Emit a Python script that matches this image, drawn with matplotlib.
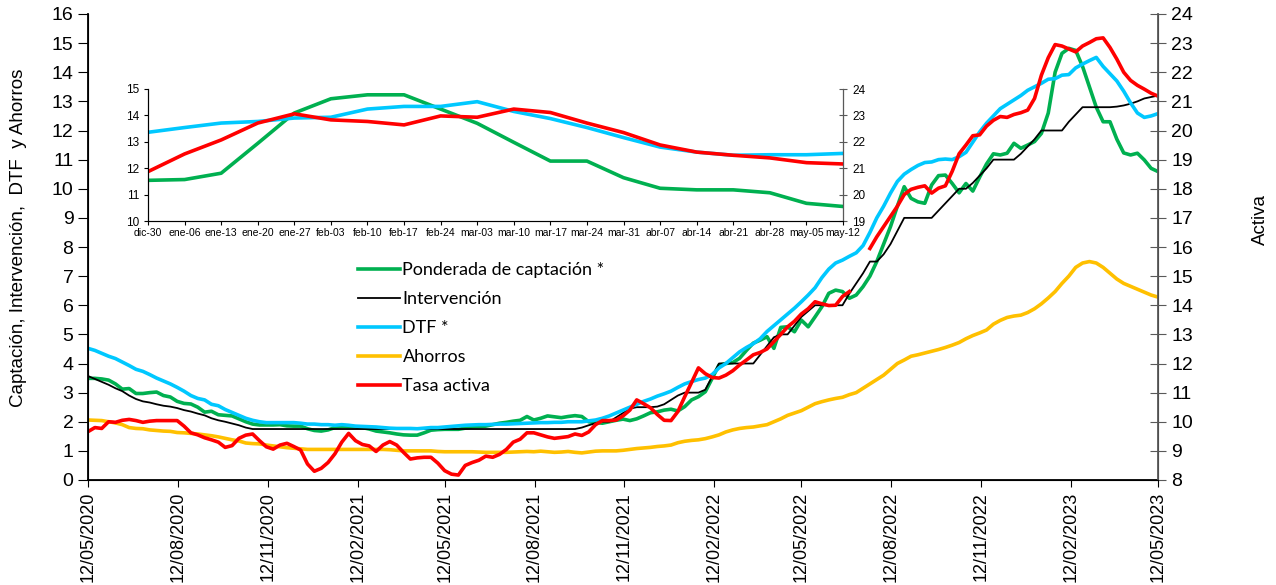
## Tasas de interes semanales - captacion, intervencion, DTF, ahorros y activa
import numpy as np
import pandas as pd
import matplotlib
matplotlib.use('Agg')
import matplotlib.pyplot as plt
import matplotlib.dates as mdates

plt.rcParams['font.family'] = ['Liberation Sans', 'DejaVu Sans']

## Datos del grafico principal (semanal, 12/05/2020 - 12/05/2023)
fechas = pd.date_range('2020-05-12', '2023-05-12', periods=157)
fechas_eje = ['2020-05-12', '2020-08-12', '2020-11-12', '2021-02-12', '2021-05-12', '2021-08-12', '2021-11-12',
              '2022-02-12', '2022-05-12', '2022-08-12', '2022-11-12', '2023-02-12', '2023-05-12']

captacion = [3.49, 3.49, 3.47, 3.43, 3.3, 3.12, 3.14, 2.97, 2.97, 3.0, 3.02, 2.9, 2.85, 2.7, 2.63, 2.61,
             2.5, 2.33, 2.36, 2.24, 2.22, 2.2, 2.1, 2.0, 1.92, 1.89, 1.89, 1.89, 1.9, 1.86, 1.85, 1.85,
             1.76, 1.7, 1.68, 1.72, 1.8, 1.83, 1.83, 1.82, 1.8, 1.75, 1.68, 1.65, 1.62, 1.58, 1.55, 1.54,
             1.54, 1.62, 1.71, 1.73, 1.74, 1.74, 1.74, 1.78, 1.82, 1.83, 1.85, 1.9, 1.95, 1.98,
             2.02, 2.05, 2.18, 2.06, 2.12, 2.2, 2.17, 2.14, 2.18, 2.21, 2.18, 2.0, 1.97, 1.95, 2.0, 2.05,
             2.09, 2.04, 2.1, 2.2, 2.31, 2.34, 2.4, 2.43, 2.37, 2.52, 2.75, 2.86, 3.03, 3.49, 3.95,
             4.0, 4.03, 4.18, 4.45, 4.7, 4.8, 4.92, 4.52, 5.24, 5.26, 5.09, 5.49, 5.26, 5.6, 5.95, 6.41,
             6.52, 6.47, 6.24, 6.35, 6.64, 7.0, 7.5, 8.1, 8.7, 9.4,
             10.07, 9.67, 9.55, 9.5, 10.13, 10.45, 10.47, 10.18, 9.86, 10.18, 9.92, 10.4, 10.85, 11.2,
             11.16, 11.22, 11.56, 11.39, 11.5, 11.62, 11.9, 12.6, 14.0, 14.65, 14.82, 14.75, 14.2, 13.5,
             12.8, 12.3, 12.3, 11.7, 11.23, 11.16, 11.22, 10.99, 10.7, 10.59]

intervencion = [3.57, 3.47, 3.37, 3.27, 3.15, 3.05, 2.9, 2.78, 2.7, 2.66, 2.6, 2.55, 2.52, 2.47, 2.4, 2.35,
                2.28, 2.22, 2.12, 2.05, 2.0, 1.94, 1.88, 1.8] + [1.75] * 48 + \
               [1.8, 1.88, 1.95, 2.0, 2.0, 2.15, 2.3, 2.45, 2.5, 2.5, 2.5, 2.52, 2.6, 2.75, 2.9, 3.0, 3.0,
                3.0, 3.1, 3.55, 4.0] + [4.0] * 5 + \
               [4.3, 4.6, 4.9, 5.0, 5.0, 5.3, 5.6, 5.8, 6.0] + [6.0] * 4 + \
               [6.4, 6.75, 7.1, 7.5, 7.5, 7.75, 8.1, 8.55] + [9.0] * 5 + \
               [9.25, 9.5, 9.75, 10.0, 10.0, 10.2, 10.45, 10.7, 11.0, 11.0, 11.0, 11.0,
                11.2, 11.45, 11.7, 12.0, 12.0, 12.0, 12.0, 12.3, 12.55, 12.8,
                12.8, 12.8, 12.8, 12.8, 12.82, 12.86, 12.92, 13.0, 13.1, 13.15, 13.2]

dtf = [4.52, 4.45, 4.35, 4.25, 4.17, 4.05, 3.93, 3.8, 3.73, 3.62, 3.5, 3.4, 3.3, 3.18, 3.05, 2.9,
       2.8, 2.75, 2.6, 2.55, 2.42, 2.32, 2.22, 2.12, 2.05, 2.0, 1.97, 1.97, 1.97, 1.97, 1.97, 1.95,
       1.92, 1.92, 1.9, 1.9, 1.88, 1.9, 1.88, 1.85, 1.84, 1.83, 1.82, 1.8, 1.78, 1.77,
       1.77, 1.77, 1.76, 1.78, 1.8, 1.8, 1.82, 1.84, 1.86, 1.88, 1.89, 1.9, 1.9, 1.91, 1.92, 1.92,
       1.93, 1.94, 1.95, 1.96, 1.97, 1.97, 1.98, 1.98, 2.0, 2.0, 2.0, 2.03, 2.06, 2.12,
       2.2, 2.3, 2.4, 2.5, 2.6, 2.7, 2.78, 2.88, 2.96, 3.05, 3.18, 3.3, 3.38, 3.45, 3.5, 3.62,
       3.85, 4.0, 4.2, 4.4, 4.55, 4.68, 4.85, 5.1, 5.3, 5.5, 5.7, 5.9, 6.12,
       6.35, 6.6, 6.95, 7.24, 7.45, 7.55, 7.68, 7.8, 8.05, 8.5, 9.0, 9.4, 9.85,
       10.25, 10.5, 10.66, 10.8, 10.9, 10.92, 11.0, 11.02, 11.0, 11.1, 11.25, 11.6, 11.95,
       12.25, 12.5, 12.75, 12.9, 13.05, 13.2, 13.38, 13.5, 13.62, 13.76, 13.78, 13.9, 13.92,
       14.15, 14.28, 14.4, 14.51, 14.2, 13.95, 13.7, 13.35, 12.95, 12.6, 12.45, 12.5, 12.58]

ahorros = [2.06, 2.05, 2.04, 2.0, 1.96, 1.9, 1.8, 1.77, 1.76, 1.72, 1.7, 1.68, 1.67, 1.63, 1.62, 1.6,
           1.58, 1.55, 1.52, 1.48, 1.43, 1.38, 1.34, 1.27, 1.25, 1.24, 1.2, 1.17, 1.14, 1.11, 1.09, 1.07,
           1.05, 1.05, 1.05, 1.05, 1.05, 1.05, 1.05, 1.05, 1.05, 1.05, 1.05, 1.05, 1.04, 1.02, 1.0,
           1.0, 1.0, 1.0, 1.0, 0.98, 0.97, 0.97, 0.97, 0.97, 0.97, 0.96, 0.95, 0.95, 0.95, 0.95, 0.96,
           0.97, 0.98, 0.97, 0.99, 0.97, 0.95, 0.96, 0.98, 0.95, 0.93, 0.96, 0.99, 1.0, 1.0, 1.0, 1.02,
           1.05, 1.08, 1.1, 1.12, 1.15, 1.17, 1.2, 1.28, 1.33, 1.36, 1.38, 1.42, 1.48, 1.55, 1.65, 1.72,
           1.77, 1.8, 1.82, 1.86, 1.9, 2.0, 2.1, 2.22, 2.3, 2.38, 2.5, 2.62, 2.69, 2.75, 2.8, 2.84,
           2.93, 3.0, 3.15, 3.3, 3.45, 3.6, 3.8, 4.0,
           4.12, 4.25, 4.3, 4.36, 4.42, 4.48, 4.55, 4.63, 4.72, 4.85, 4.96, 5.05, 5.15, 5.35, 5.48, 5.58,
           5.63, 5.66, 5.75, 5.88, 6.05, 6.25, 6.47, 6.75, 7.0, 7.3, 7.45, 7.5, 7.45, 7.3, 7.1, 6.9,
           6.75, 6.65, 6.55, 6.45, 6.35, 6.28]

# Tasa activa va en el eje derecho (8-24); faltan dos semanas en jul-2022
activa = [9.66, 9.8, 9.77, 10.0, 9.98, 10.05, 10.08, 10.04, 9.98, 10.02, 10.04, 10.04, 10.04, 10.04, 9.85, 9.62,
          9.55, 9.45, 9.38, 9.3, 9.12, 9.18, 9.43, 9.54, 9.58, 9.35, 9.14, 9.06, 9.2, 9.26, 9.15, 9.03,
          8.55, 8.3, 8.4, 8.6, 8.9, 9.3, 9.6, 9.35, 9.22, 9.17, 8.98, 9.2, 9.32, 9.2, 8.95, 8.72,
          8.76, 8.78, 8.78, 8.58, 8.32, 8.2, 8.17, 8.5, 8.6, 8.68, 8.82, 8.78, 8.88, 9.05, 9.3, 9.4,
          9.62, 9.62, 9.55, 9.48, 9.43, 9.46, 9.49, 9.58, 9.53, 9.65, 9.9, 10.04, 10.04, 10.06, 10.2, 10.4,
          10.75, 10.62, 10.48, 10.25, 10.05, 10.04, 10.35, 10.86, 11.35, 11.85, 11.65, 11.52, 11.5,
          11.6, 11.75, 11.95, 12.12, 12.3, 12.38, 12.5, 12.75, 13.0, 13.26, 13.45, 13.7, 13.88, 14.12,
          14.05, 13.99, 14.0, 14.3, 14.47, np.nan, np.nan,
          15.95, 16.35, 16.7, 17.05, 17.4, 17.8, 17.98, 18.05, 18.1, 17.85, 18.02, 18.1, 18.6, 19.2,
          19.5, 19.82, 19.85, 20.15, 20.35, 20.48, 20.45, 20.55, 20.61, 20.7, 21.1, 21.9, 22.5, 22.95,
          22.9, 22.8, 22.7, 22.9, 23.02, 23.15, 23.18, 22.85, 22.45, 22.0, 21.72, 21.55, 21.42, 21.28, 21.18]

## Datos del recuadro (ultimas 20 semanas)
sem_rec = ['dic-30', 'ene-06', 'ene-13', 'ene-20', 'ene-27', 'feb-03', 'feb-10', 'feb-17', 'feb-24', 'mar-03',
           'mar-10', 'mar-17', 'mar-24', 'mar-31', 'abr-07', 'abr-14', 'abr-21', 'abr-28', 'may-05', 'may-12']
captacion_rec = [11.54, 11.57, 11.81, 12.94, 14.09, 14.63, 14.78, 14.78, 14.24, 13.7,
                 12.98, 12.27, 12.27, 11.64, 11.24, 11.18, 11.18, 11.07, 10.67, 10.55]
dtf_rec = [13.36, 13.54, 13.71, 13.77, 13.9, 13.93, 14.24, 14.34, 14.34, 14.52,
           14.15, 13.88, 13.54, 13.16, 12.8, 12.61, 12.49, 12.51, 12.51, 12.56]
activa_rec = [20.87, 21.54, 22.07, 22.71, 23.06, 22.83, 22.77, 22.64, 22.98, 22.93,
              23.24, 23.11, 22.71, 22.35, 21.88, 21.61, 21.49, 21.39, 21.21, 21.16]

verde = '#00B050'
azul = '#00C8FF'
amarillo = '#FFC000'
rojo = '#FF0000'
gris = '#595959'

fig = plt.figure(figsize=(12.76, 5.85), dpi=100)
ax = fig.add_axes([88/1276, 1 - 480/585, 1070/1276, 466/585])
ax2 = ax.twinx()

l1, = ax.plot(fechas, captacion, color=verde, lw=2.6, label='Ponderada de captación *')
l2, = ax.plot(fechas, intervencion, color='black', lw=1.3, label='Intervención')
l3, = ax.plot(fechas, dtf, color=azul, lw=2.6, label='DTF *')
l4, = ax.plot(fechas, ahorros, color=amarillo, lw=2.6, label='Ahorros')
l5, = ax2.plot(fechas, activa, color=rojo, lw=2.6, label='Tasa activa')

ax.set_xlim(pd.Timestamp('2020-05-12'), pd.Timestamp('2023-05-12'))
ax.set_ylim(0, 16)
ax2.set_ylim(8, 24)
ax.set_yticks(range(0, 17))
ax2.set_yticks(range(8, 25))

ax.set_xticks(pd.to_datetime(fechas_eje))
ax.xaxis.set_major_formatter(mdates.DateFormatter('%d/%m/%Y'))
plt.setp(ax.get_xticklabels(), rotation=90, fontsize=13)
ax.tick_params(axis='y', labelsize=14, direction='out', length=7)
ax.tick_params(axis='x', direction='out', length=5)
ax2.tick_params(axis='y', labelsize=14, direction='inout', length=12, color=gris)

for s in ['top']:
    ax.spines[s].set_visible(False)
    ax2.spines[s].set_visible(False)
ax2.spines['right'].set_color(gris)
ax2.spines['right'].set_linewidth(1.3)
ax.spines['left'].set_linewidth(1.3)
ax.spines['bottom'].set_linewidth(1.3)

ax.set_ylabel('Captación, Intervención,  DTF  y Ahorros', fontsize=13.5)
ax.yaxis.set_label_coords(-0.057, 0.52)
ax2.set_ylabel('Activa', fontsize=13.5)
ax2.yaxis.set_label_coords(1.088, 0.56)

fig.legend(handles=[l1, l2, l3, l4, l5], loc='upper left', bbox_to_anchor=(342/1276, 1 - 246/585),
           frameon=False, prop={'family': 'Lato', 'size': 13}, handlelength=2.3, labelspacing=0.72,
           handletextpad=0.15)

## Recuadro
ins = fig.add_axes([148/1276, 1 - 221/585, 695/1276, 132/585])
ins2 = ins.twinx()
xr = np.arange(len(sem_rec))
ins.plot(xr, captacion_rec, color=verde, lw=2.6)
ins.plot(xr, dtf_rec, color=azul, lw=2.6)
ins2.plot(xr, activa_rec, color=rojo, lw=2.6)
ins.set_xlim(0, len(sem_rec) - 1)
ins.set_ylim(10, 15)
ins2.set_ylim(19, 24)
ins.set_xticks(xr)
ins.set_xticklabels(sem_rec, fontsize=7.5)
ins.tick_params(axis='y', labelsize=8.5, length=3, direction='out')
ins.tick_params(axis='x', length=3, direction='out', pad=2)
ins2.tick_params(axis='y', labelsize=8.5, length=6, direction='inout', color=gris)
ins.spines['top'].set_visible(False)
ins2.spines['top'].set_visible(False)
ins2.spines['right'].set_color(gris)
ins.spines['bottom'].set_color(gris)

fig.savefig('out.png', dpi=100)
